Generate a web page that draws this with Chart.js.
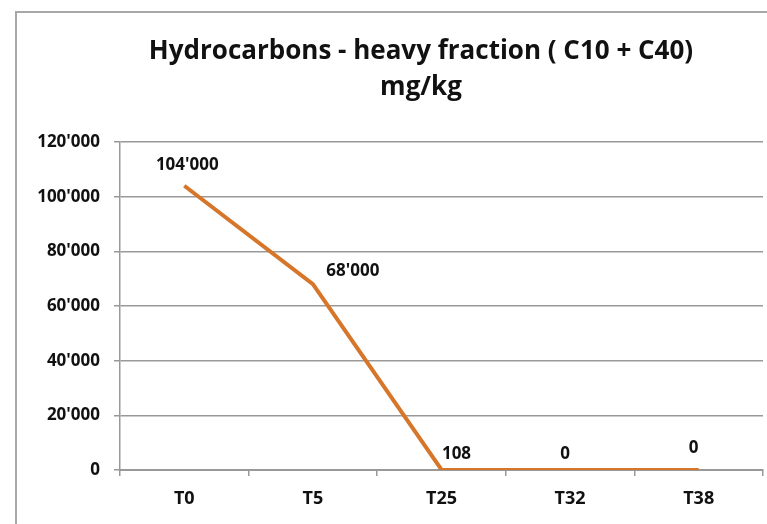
<!DOCTYPE html>
<html>
<head>
<meta charset="utf-8">
<script src="https://cdn.jsdelivr.net/npm/chart.js@4"></script>
<style>
  html, body { margin: 0; padding: 0; background: #fff; }
  #wrap { position: relative; width: 767px; height: 524px; overflow: hidden; }
  #frame { position: absolute; left: 15px; top: 11px; width: 800px; height: 600px; border-left: 2px solid #a8a8a8; border-top: 2px solid #a8a8a8; box-sizing: border-box; }
  canvas { position: absolute; left: 0; top: 0; }
</style>
</head>
<body>
<div id="wrap">
  <div id="frame"></div>
  <canvas id="c" width="767" height="524"></canvas>
</div>
<script>
const categories = ['T0', 'T5', 'T25', 'T32', 'T38'];
const values = [104000, 68000, 108, 0, 0];
const valueLabels = ["104'000", "68'000", "108", "0", "0"];
const yTicks = [0, 20000, 40000, 60000, 80000, 100000, 120000];
const titleLines = ['Hydrocarbons - heavy fraction ( C10 + C40)', 'mg/kg'];

const labelOffsets = [[3, -21], [40, -13], [15, -16], [-5, -16], [-5, -22]];
const FONT = '"Open Sans", "DejaVu Sans", sans-serif';

function fmt(v) {
  return String(v).replace(/\B(?=(\d{3})+(?!\d))/g, "'");
}

const labelPlugin = {
  id: 'valueLabels',
  afterDatasetsDraw(chart) {
    const ctx = chart.ctx;
    const meta = chart.getDatasetMeta(0);
    ctx.save();
    ctx.font = 'bold 17px ' + FONT;
    ctx.fillStyle = '#111';
    ctx.textAlign = 'center';
    ctx.textBaseline = 'middle';
    meta.data.forEach((pt, i) => {
      const o = labelOffsets[i];
      ctx.fillText(valueLabels[i], pt.x + o[0], pt.y + o[1]);
    });
    ctx.restore();
  }
};

const titlePlugin = {
  id: 'customTitle',
  afterDraw(chart) {
    const ctx = chart.ctx;
    ctx.save();
    ctx.font = 'bold 26px ' + FONT;
    ctx.fillStyle = '#111';
    ctx.textAlign = 'center';
    ctx.textBaseline = 'middle';
    ctx.fillText(titleLines[0], 421, 52);
    ctx.fillText(titleLines[1], 421, 88);
    ctx.restore();
  }
};

new Chart(document.getElementById('c'), {
  type: 'line',
  data: {
    labels: categories,
    datasets: [{
      data: values,
      borderColor: '#d6762a',
      borderWidth: 4,
      pointRadius: 0,
      tension: 0,
      fill: false
    }]
  },
  options: {
    responsive: false,
    animation: false,
    layout: { padding: { left: 0, right: 4, top: 142, bottom: 0 } },
    plugins: {
      legend: { display: false },
      tooltip: { enabled: false },
      title: { display: false }
    },
    scales: {
      x: {
        offset: true,
        afterFit(axis) { axis.height = 54; },
        grid: { offset: true, drawOnChartArea: false, color: '#999', tickLength: 6, lineWidth: 1.5 },
        border: { color: '#999', width: 2 },
        ticks: { color: '#111', font: { family: FONT, size: 18, weight: 'bold' }, padding: 12 }
      },
      y: {
        min: 0,
        max: 120000,
        afterBuildTicks(axis) { axis.ticks = yTicks.map(v => ({ value: v })); },
        afterFit(axis) { axis.width = 120; },
        grid: { color: '#999', lineWidth: 1.5, tickLength: 6 },
        border: { color: '#999', width: 1.5 },
        ticks: {
          color: '#111',
          font: { family: FONT, size: 17, weight: 'bold' },
          padding: 14,
          callback: v => fmt(v)
        }
      }
    }
  },
  plugins: [labelPlugin, titlePlugin]
});
</script>
</body>
</html>
